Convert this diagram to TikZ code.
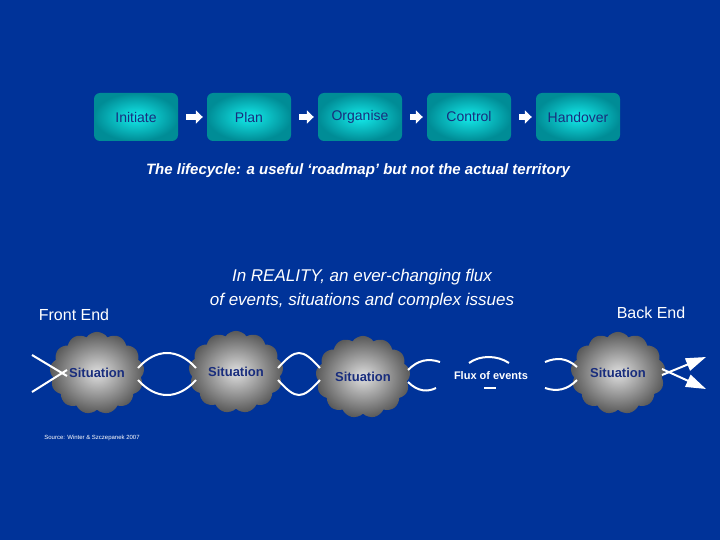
\documentclass[tikz,border=0pt]{standalone}
\usepackage{fontspec}
\setmainfont{Liberation Sans}
\usetikzlibrary{shapes.symbols,arrows.meta}
\definecolor{bg}{RGB}{0,51,153}
\definecolor{boxin}{RGB}{20,235,235}
\definecolor{boxout}{RGB}{0,140,150}
\definecolor{dtext}{RGB}{25,45,125}
\begin{document}
\begin{tikzpicture}[x=1pt,y=-1pt,
  stage/.style={rounded corners=6pt,minimum width=84pt,minimum height=48pt,inner color=boxin,outer color=boxout,text=dtext,font=\fontsize{14}{16}\selectfont},
  sit/.style={cloud,cloud puffs=13,cloud puff arc=110,minimum width=88pt,minimum height=72pt,inner color=gray!25,outer color=gray!70!black,text=dtext,font=\fontsize{13}{15}\selectfont\bfseries,aspect=1.2},
  flow/.style={-{Triangle[width=9pt,length=7pt]},white,line width=4pt},
  wave/.style={white,line width=2pt},
  lab/.style={white,font=\fontsize{16}{20}\selectfont}]
\fill[bg] (0,0) rectangle (720,540);
\useasboundingbox (0,0) rectangle (720,540);
\node[stage] (a) at (136,117) {Initiate};
\node[stage] (b) at (249,117) {Plan};
\node[stage] (c) at (360,117) {Organise};
\node[stage] (d) at (469,117) {\raisebox{1pt}{Control}};
\node[stage] (e) at (578,117) {Handover};
\foreach \u/\v in {a/b,b/c,c/d,d/e}{\draw[flow,line width=6pt,-{Triangle[width=13pt,length=7pt]}] ([xshift=8pt]\u.east) -- ([xshift=-4pt]\v.west);}
\node[white,font=\fontsize{15}{18}\selectfont\bfseries\itshape] (t) at (358,171) {The lifecycle: a useful ‘roadmap’ but not the actual territory};
\node[lab,font=\fontsize{17}{24}\selectfont\itshape,align=center] (r) at (362,289) {In REALITY, an ever-changing flux\\of events, situations and complex issues};
\node[lab] (fe) at (74,315) {Front End};
\node[lab] (be) at (651,313) {Back End};
\node[sit] (s1) at (97,373) {Situation};
\node[sit] (s2) at (236,372) {Situation};
\node[sit] (s3) at (363,377) {Situation};
\node[sit] (s4) at (618,373) {Situation};
\node[white,font=\fontsize{11}{13}\selectfont\bfseries] (fx) at (491,376) {Flux of events};
% left cross
\coordinate (l1) at (32,355); \coordinate (l2) at (32,392);
\draw[wave] (l1) -- ([xshift=-30pt,yshift=-3pt]s1.center);
\draw[wave] (l2) -- ([xshift=-30pt,yshift=3pt]s1.center);
% waves between clouds
\foreach \xa/\xb in {138/196,278/320}{
 \draw[wave] (\xa,368) .. controls (\xa+18,348) and (\xb-18,348) .. (\xb,368);
 \draw[wave] (\xa,380) .. controls (\xa+18,400) and (\xb-18,400) .. (\xb,380);}
\draw[wave] (408,370) .. controls (418,360) and (428,358) .. (440,362);
\draw[wave] (408,382) .. controls (418,392) and (428,392) .. (436,388);
\draw[wave] (469,363) .. controls (480,355) and (497,355) .. (509,363);
\draw[wave] (484,388) -- (496,388);
\draw[wave] (545,362) .. controls (557,357) and (567,358) .. (577,367);
\draw[wave] (545,388) .. controls (557,392) and (567,390) .. (577,380);
% right arrows
\coordinate (r1) at (706,357); \coordinate (r2) at (706,389);
\draw[flow,line width=2pt,-{Triangle[width=13pt,length=20pt]}] ([xshift=44pt,yshift=-2pt]s4.center) -- (r1);
\draw[flow,line width=2pt,-{Triangle[width=13pt,length=20pt]}] ([xshift=44pt,yshift=4pt]s4.center) -- (r2);
\node[white,font=\fontsize{6}{7}\selectfont] (src) at (92,438) {Source: Winter \& Szczepanek 2007};
\end{tikzpicture}
\end{document}
